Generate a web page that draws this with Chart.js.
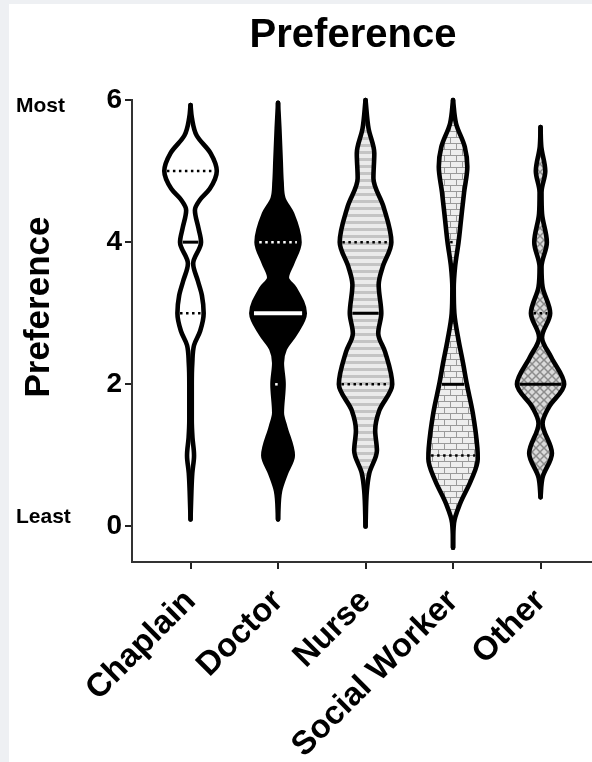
<!DOCTYPE html>
<html>
<head>
<meta charset="utf-8">
<script src="https://cdn.jsdelivr.net/npm/chart.js@4.4.1/dist/chart.umd.min.js"></script>
<style>
  html, body { margin: 0; padding: 0; background: #eef0f3; }
  #wrap { width: 592px; height: 762px; }
</style>
</head>
<body>
<div id="wrap"><canvas id="violin" width="592" height="762"></canvas></div>
<script>
const FONT = "'Liberation Sans', Arial, Helvetica, sans-serif";

// categories and summary stats
const categories = ['Chaplain', 'Doctor', 'Nurse', 'Social Worker', 'Other'];
const medians = [4, 3, 3, 2, 2];
const upperQuartiles = [5, 4, 4, 4, 3];
const lowerQuartiles = [3, 2, 2, 1, 2];
const yTicks = [0, 2, 4, 6];

// density profiles: preference level -> half width (in category units)
const chaplainLevels = [0.1, 0.5, 0.75, 1.0, 1.25, 1.5, 2.0, 2.3, 2.55, 2.75, 3.0, 3.25, 3.45, 3.7, 4.0, 4.2, 4.45, 4.6, 4.75, 5.0, 5.25, 5.5, 5.75, 5.93];
const chaplainWidths = [0, 0.01, 0.02, 0.04, 0.022, 0.014, 0.014, 0.02, 0.04, 0.11, 0.15, 0.13, 0.085, 0.03, 0.12, 0.09, 0.05, 0.11, 0.22, 0.3, 0.23, 0.07, 0.015, 0];

const doctorLevels = [0.1, 0.5, 0.75, 1.0, 1.4, 1.6, 2.0, 2.3, 2.5, 2.7, 3.0, 3.35, 3.5, 3.7, 4.0, 4.4, 4.62, 4.85, 5.15, 5.6, 5.96];
const doctorWidths = [0, 0.023, 0.09, 0.168, 0.082, 0.043, 0.063, 0.043, 0.077, 0.19, 0.305, 0.19, 0.1, 0.16, 0.245, 0.16, 0.06, 0.04, 0.03, 0.015, 0];

const nurseLevels = [0, 0.5, 0.75, 1.07, 1.35, 1.63, 2.0, 2.45, 2.72, 3.0, 3.4, 3.65, 4.0, 4.5, 4.9, 5.25, 5.6, 6.0];
const nurseWidths = [0, 0.015, 0.043, 0.13, 0.11, 0.157, 0.305, 0.225, 0.145, 0.18, 0.15, 0.195, 0.295, 0.205, 0.09, 0.1, 0.034, 0];

const socialLevels = [-0.3, 0.05, 0.32, 0.65, 0.95, 1.1, 1.6, 2.0, 2.3, 2.62, 3.0, 3.35, 3.65, 4.0, 4.3, 4.7, 5.06, 5.34, 5.67, 6.0];
const socialWidths = [0, 0.011, 0.08, 0.206, 0.282, 0.278, 0.225, 0.158, 0.114, 0.063, 0.015, 0.008, 0.023, 0.063, 0.09, 0.126, 0.163, 0.134, 0.034, 0];

const otherLevels = [0.41, 0.69, 1.03, 1.45, 1.68, 2.0, 2.38, 2.66, 3.0, 3.37, 3.65, 4.0, 4.4, 4.7, 5.0, 5.34, 5.62];
const otherWidths = [0, 0.023, 0.13, 0.023, 0.095, 0.27, 0.122, 0.017, 0.11, 0.023, 0.011, 0.072, 0.017, 0.011, 0.054, 0.009, 0];

const profiles = [
  [chaplainLevels, chaplainWidths],
  [doctorLevels, doctorWidths],
  [nurseLevels, nurseWidths],
  [socialLevels, socialWidths],
  [otherLevels, otherWidths]
];

function makePattern(kind) {
  const c = document.createElement('canvas');
  const g = c.getContext('2d');
  if (kind === 'stripes') {
    c.width = 8; c.height = 7;
    g.fillStyle = '#ebebeb'; g.fillRect(0, 0, 8, 7);
    g.fillStyle = '#c4c4c4'; g.fillRect(0, 4, 8, 3);
  } else if (kind === 'bricks') {
    c.width = 12; c.height = 12;
    g.fillStyle = '#eeeeee'; g.fillRect(0, 0, 12, 12);
    g.fillStyle = '#9a9a9a';
    g.fillRect(0, 5, 12, 1); g.fillRect(0, 11, 12, 1);
    g.fillRect(0, 0, 1, 5); g.fillRect(6, 6, 1, 5);
  } else {
    c.width = 8; c.height = 8;
    g.fillStyle = '#dadada'; g.fillRect(0, 0, 8, 8);
    g.strokeStyle = '#8c8c8c'; g.lineWidth = 1.5;
    g.beginPath();
    g.moveTo(0, 0); g.lineTo(8, 8);
    g.moveTo(8, 0); g.lineTo(0, 8);
    g.stroke();
  }
  return g.createPattern(c, 'repeat');
}

const fills = ['#ffffff', '#000000', makePattern('stripes'), makePattern('bricks'), makePattern('hatch')];
const markColors = ['#000', '#fff', '#000', '#000', '#000'];

function widthAt(levels, widths, y) {
  for (let k = 1; k < levels.length; k++) {
    if (y <= levels[k]) {
      const t = (y - levels[k - 1]) / (levels[k] - levels[k - 1]);
      return widths[k - 1] + t * (widths[k] - widths[k - 1]);
    }
  }
  return 0;
}

const datasets = [];

profiles.forEach(function (p, i) {
  const levels = p[0], widths = p[1];
  const outline = {
    borderColor: '#000',
    borderWidth: 4.6,
    borderCapStyle: 'round',
    borderJoinStyle: 'round',
    pointRadius: 0,
    cubicInterpolationMode: 'monotone',
    clip: 8,
    order: 2
  };
  datasets.push(Object.assign({
    data: levels.map((y, k) => ({ x: i - widths[k], y: y })),
    fill: false
  }, outline));
  datasets.push(Object.assign({
    data: levels.map((y, k) => ({ x: i + widths[k], y: y })),
    fill: '-1',
    backgroundColor: fills[i]
  }, outline));
});

function markLine(i, y, dashed) {
  const p = profiles[i];
  const half = Math.max(widthAt(p[0], p[1], y) - 0.03, 0.006);
  return {
    data: [{ x: i - half, y: y }, { x: i + half, y: y }],
    borderColor: markColors[i],
    borderWidth: dashed ? 2.5 : (i === 1 ? 4 : 3),
    borderDash: dashed ? [2.5, 3.5] : [],
    pointRadius: 0,
    tension: 0,
    fill: false,
    order: 0
  };
}

categories.forEach(function (c, i) {
  datasets.push(markLine(i, medians[i], false));
  if (upperQuartiles[i] !== medians[i]) datasets.push(markLine(i, upperQuartiles[i], true));
  if (lowerQuartiles[i] !== medians[i]) datasets.push(markLine(i, lowerQuartiles[i], true));
});

const pageText = {
  id: 'pageText',
  beforeDraw(chart) {
    const ctx = chart.ctx;
    ctx.save();
    ctx.fillStyle = '#eef0f3';
    ctx.fillRect(0, 0, chart.width, chart.height);
    ctx.fillStyle = '#ffffff';
    ctx.fillRect(9, 4, chart.width - 9, chart.height - 4);
    ctx.restore();
  },
  afterDraw(chart) {
    const ctx = chart.ctx;
    ctx.save();
    ctx.fillStyle = '#000';
    ctx.textBaseline = 'alphabetic';

    ctx.font = 'bold 40px ' + FONT;
    ctx.textAlign = 'center';
    ctx.fillText('Preference', 353, 47);

    ctx.font = 'bold 21px ' + FONT;
    ctx.textAlign = 'left';
    ctx.fillText('Most', 16, 112);
    ctx.fillText('Least', 16, 523);

    ctx.translate(39, 307);
    ctx.rotate(-Math.PI / 2);
    ctx.font = 'bold 35px ' + FONT;
    ctx.textAlign = 'center';
    ctx.textBaseline = 'middle';
    ctx.fillText('Preference', 0, 0);
    ctx.restore();
  }
};

new Chart(document.getElementById('violin'), {
  type: 'line',
  data: { datasets: datasets },
  plugins: [pageText],
  options: {
    responsive: false,
    animation: false,
    indexAxis: 'y',
    devicePixelRatio: 1,
    layout: { padding: { top: 100, left: 0, right: 0, bottom: 0 } },
    plugins: {
      legend: { display: false },
      tooltip: { enabled: false },
      filler: { drawTime: 'beforeDatasetsDraw' },
      title: { display: false }
    },
    scales: {
      x: {
        type: 'linear',
        min: -0.669,
        max: 4.588,
        afterBuildTicks: axis => { axis.ticks = categories.map((c, i) => ({ value: i })); },
        afterFit: axis => { axis.height = 200; },
        ticks: {
          autoSkip: false,
          minRotation: 45,
          maxRotation: 45,
          padding: 13,
          color: '#000',
          font: { family: FONT, size: 33, weight: 'bold' },
          callback: v => categories[v]
        },
        grid: { drawOnChartArea: false, drawTicks: true, tickLength: 7, color: '#222', lineWidth: 2 },
        border: { display: true, color: '#333', width: 2 }
      },
      y: {
        type: 'linear',
        min: -0.5,
        max: 6,
        afterBuildTicks: axis => { axis.ticks = yTicks.map(v => ({ value: v })); },
        afterFit: axis => { axis.width = 132; },
        ticks: {
          padding: 3,
          color: '#000',
          font: { family: FONT, size: 28, weight: 'bold' }
        },
        grid: { drawOnChartArea: false, drawTicks: true, tickLength: 7, color: '#222', lineWidth: 2 },
        border: { display: true, color: '#333', width: 2 }
      }
    }
  }
});
</script>
</body>
</html>
